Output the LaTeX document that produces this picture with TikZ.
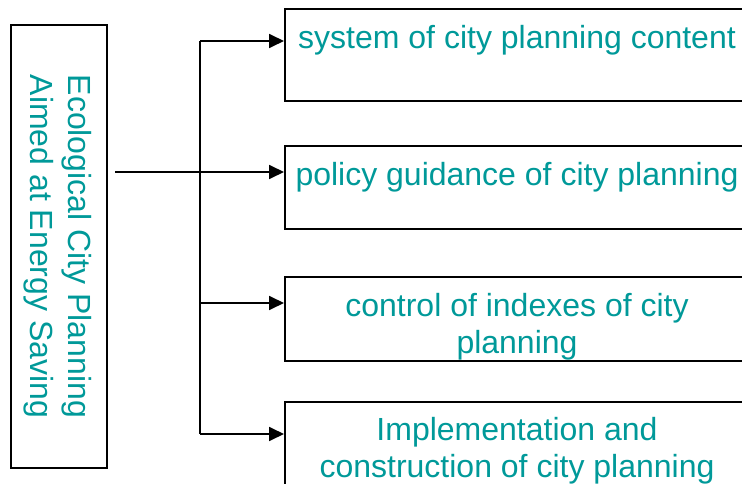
\documentclass[tikz,border=0pt]{standalone}
\usepackage{fontspec}
\setmainfont{Liberation Sans}
\usetikzlibrary{arrows.meta}
\definecolor{tealc}{RGB}{0,153,153}
\begin{document}
\begin{tikzpicture}[x=1pt,y=-1pt,
  box/.style={draw, line width=1.8pt, rectangle, inner sep=0pt, anchor=north west},
  lbl/.style={text=tealc, font=\fontsize{32}{37.5}\selectfont, align=center, inner sep=0pt},
  arr/.style={line width=1.8pt, -{Triangle[length=15pt,width=14pt]}},
  ln/.style={line width=1.8pt}]
\useasboundingbox (0,0) rectangle (742,484);
\clip (0,0) rectangle (742,484);
% left box
\node[box, minimum width=96pt, minimum height=443pt] (L) at (10,24) {};
\node[lbl, rotate=-90, anchor=center] (Lt) at ([xshift=-1pt]L.center) {Ecological City Planning\\Aimed at Energy Saving};
% right boxes
\node[box, minimum width=470pt, minimum height=92pt] (b1) at (284,8) {};
\node[box, minimum width=470pt, minimum height=83pt] (b2) at (284,145) {};
\node[box, minimum width=470pt, minimum height=84pt] (b3) at (284,276) {};
\node[box, minimum width=470pt, minimum height=120pt] (b4) at (284,401) {};
\node[lbl, anchor=north] (t1) at (517,25) {system of city planning content};
\node[lbl, anchor=north] (t2) at (517,162) {policy guidance of city planning};
\node[lbl, anchor=north] (t3) at (517,293) {control of indexes of city\\planning};
\node[lbl, anchor=north] (t4) at (517,417) {Implementation and\\construction of city planning};
% connectors
\coordinate (s) at (115,172);
\coordinate (j1) at (200,41);
\coordinate (j3) at (200,303);
\coordinate (j4) at (200,434);
\draw[ln] (j1) -- (j4);
\draw[arr] (s) -- (s -| b2.west);
\draw[arr] (j1) -- (j1 -| b1.west);
\draw[arr] (j3) -- (j3 -| b3.west);
\draw[arr] (j4) -- (j4 -| b4.west);
\end{tikzpicture}
\end{document}
